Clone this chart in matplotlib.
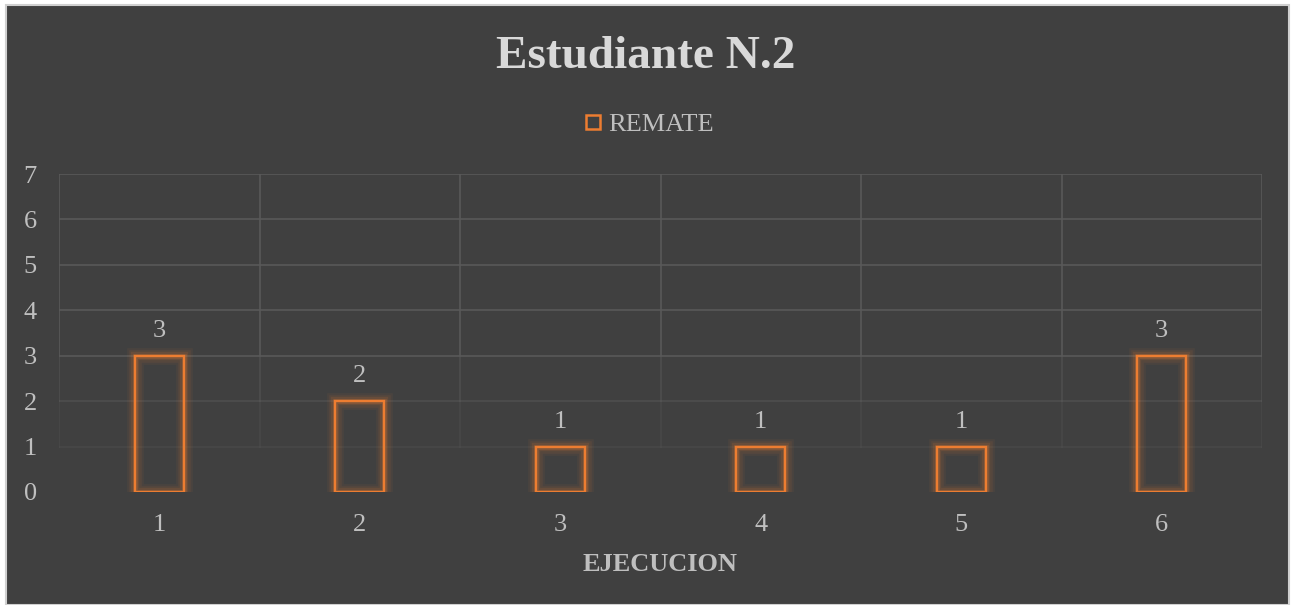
import matplotlib.pyplot as plt
from matplotlib.patches import Rectangle
from matplotlib.lines import Line2D

# data
ejecucion = [1, 2, 3, 4, 5, 6]
remate = [3, 2, 1, 1, 1, 3]
y_ticks = [0, 1, 2, 3, 4, 5, 6, 7]

BG = "#404040"
ORANGE = "#ED7D31"
TXT = "#BFBFBF"
GRID = "#595959"
FS = 19

plt.rcParams["font.family"] = ["Liberation Serif", "DejaVu Serif"]

fig = plt.figure(figsize=(12.91, 6.05), dpi=100, facecolor="white")
# dark chart area with thin light border
bg = Rectangle((6 / 1291, 0), 1283 / 1291, 600 / 605,
               transform=fig.transFigure, facecolor=BG,
               edgecolor="#D0D0D0", linewidth=1.5, zorder=-5)
fig.patches.append(bg)

ax = fig.add_axes([59 / 1291, 1 - 492 / 605, 1203 / 1291, 318 / 605])
ax.set_zorder(2)
ax.set_facecolor("none")
ax.set_xlim(0.5, 6.5)
ax.set_ylim(0, 7)

# grid, fading toward the bottom like the original
for y in y_ticks[1:]:
    a = 1.0 if y >= 3 else (0.55 if y == 2 else 0.3)
    ax.axhline(y, color=GRID, lw=1.2, alpha=a, zorder=1)
for xb in [0.5 + i for i in range(7)]:
    ax.plot([xb, xb], [3, 7], color=GRID, lw=1.2, zorder=1)
    ax.plot([xb, xb], [2, 3], color=GRID, lw=1.2, alpha=0.55, zorder=1)
    ax.plot([xb, xb], [1, 2], color=GRID, lw=1.2, alpha=0.3, zorder=1)

# glow then outline bars
for lw, a in [(12, 0.06), (9, 0.08), (6, 0.12), (3.5, 0.2)]:
    ax.bar(ejecucion, remate, width=0.245, facecolor="none",
           edgecolor=ORANGE, linewidth=lw, alpha=a, zorder=2)
bars = ax.bar(ejecucion, remate, width=0.245, facecolor="none",
              edgecolor=ORANGE, linewidth=1.7, zorder=3)

for x, v in zip(ejecucion, remate):
    ax.annotate(str(v), (x, v), xytext=(0, 18), textcoords="offset points",
                ha="center", va="center", fontsize=FS, color=TXT)

for s in ax.spines.values():
    s.set_visible(False)
ax.set_xticks(ejecucion)
ax.set_yticks(y_ticks)
ax.tick_params(axis="both", length=0, labelsize=FS, labelcolor=TXT)
ax.tick_params(axis="x", pad=16)
ax.tick_params(axis="y", pad=16)
ax.set_xlabel("EJECUCION", fontsize=FS, fontweight="bold", color=TXT, labelpad=12)

fig.text(0.5, 1 - 57 / 605, "Estudiante N.2", ha="center", va="center",
         fontsize=34, fontweight="bold", color="#D9D9D9")

handle = Line2D([], [], marker="s", markersize=10, markerfacecolor="none",
                markeredgecolor=ORANGE, markeredgewidth=1.8, linestyle="none")
fig.legend([handle], ["REMATE"], loc="center", bbox_to_anchor=(0.503, 1 - 124 / 605),
           frameon=False, fontsize=FS, labelcolor=TXT, handlelength=0.6,
           handletextpad=0.25)

fig.savefig("out.png", dpi=100, facecolor=fig.get_facecolor())
